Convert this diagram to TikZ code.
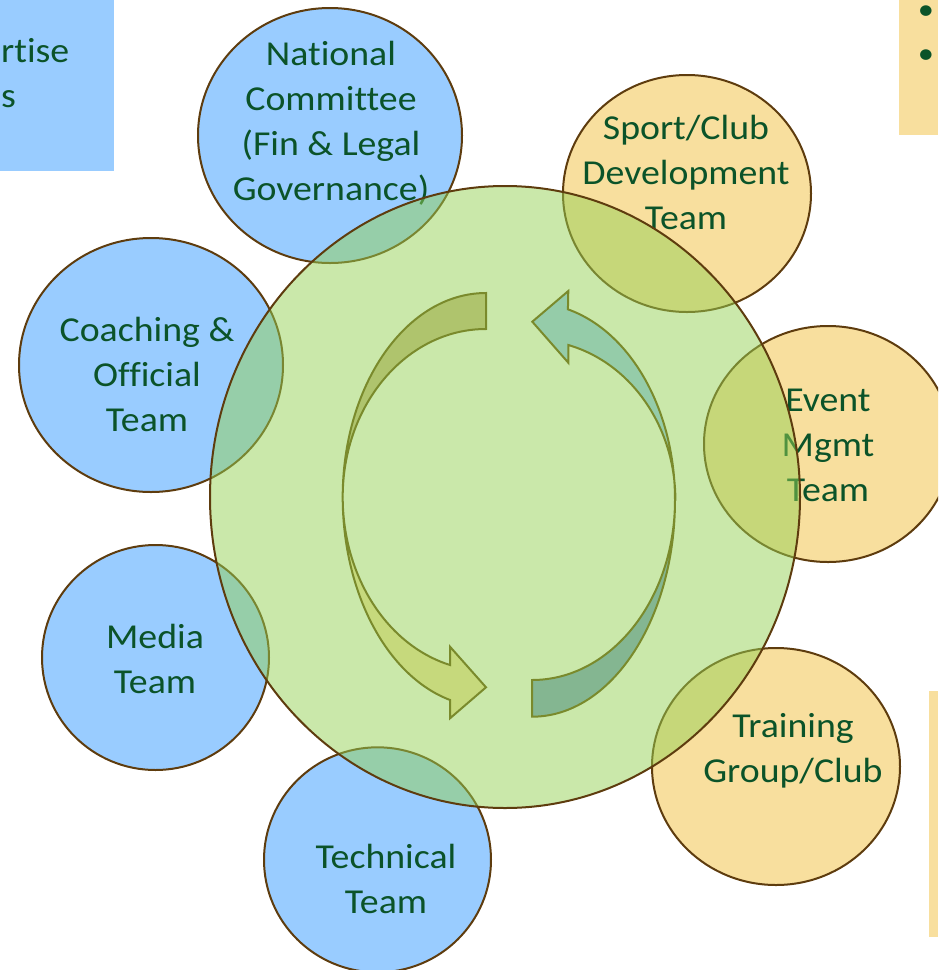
\documentclass[tikz,border=0pt]{standalone}
\usepackage{fontspec}
\setmainfont{Carlito}[FakeStretch=1.08, Ligatures=NoCommon]
\usetikzlibrary{shapes.geometric}
\definecolor{txt}{HTML}{0B5329}
\definecolor{brn}{HTML}{5E3C0E}
\definecolor{blu}{HTML}{99CCFF}
\definecolor{org}{HTML}{F8DF9E}
\definecolor{grn}{RGB}{149,209,85}
\definecolor{aline}{HTML}{7A8A2C}
\definecolor{aLtop}{HTML}{AFC46D}
\definecolor{aLbot}{HTML}{C6D97C}
\definecolor{aRtop}{HTML}{95CCA9}
\definecolor{aRbot}{HTML}{84B691}
\tikzset{
  bcirc/.style={ellipse, draw=brn, line width=2pt, fill=blu, inner sep=0pt},
  ocirc/.style={ellipse, draw=brn, line width=2pt, fill=org, inner sep=0pt},
  bigcirc/.style={ellipse, draw=brn, line width=2pt, fill=grn, fill opacity=0.5, draw opacity=1, inner sep=0pt},
  lbl/.style={text=txt, align=center, inner sep=0pt, font=\fontsize{35}{45}\selectfont},
  arrowpart/.style={draw=aline, line width=2pt, line join=miter},
  bullettxt/.style={text=txt, inner sep=0pt, font=\fontsize{30}{36}\selectfont}
}
\begin{document}
\begin{tikzpicture}[x=1pt,y=-1pt]
\useasboundingbox (0,0) rectangle (938,970);
\clip (0,0) rectangle (938,970);

% side boxes
\fill[blu] (0,0) rectangle (114,171);
\node[lbl, anchor=base west] (tl1) at (1,62) {rtise};
\node[lbl, anchor=base west] (tl2) at (1,107) {s};
\fill[org] (899,0) rectangle (938,135);
\node[bullettxt] (b1) at (926,13) {•};
\node[bullettxt] (b2) at (926,57) {•};
\fill[org] (929,691) rectangle (938,937);

% small circles
\node[bcirc, minimum width=264pt, minimum height=255pt] (nat) at (330,135.5) {};
\node[bcirc, minimum width=264pt, minimum height=254pt] (coach) at (151,365) {};
\node[bcirc, minimum width=227pt, minimum height=225pt] (media) at (155.5,657.5) {};
\node[bcirc, minimum width=227pt, minimum height=225pt] (tech) at (377.5,859.8) {};
\node[ocirc, minimum width=248pt, minimum height=237pt] (sport) at (687,193.5) {};
\node[ocirc, minimum width=248pt, minimum height=236pt] (event) at (828,444) {};
\node[ocirc, minimum width=248pt, minimum height=237pt] (train) at (776,766.5) {};

% labels
\node[lbl] (natT) at (331,123.5) {National\\Committee\\(Fin \& Legal\\Governance)};
\node[lbl] (coachT) at (147,374) {Coaching \&\\Official\\Team};
\node[lbl] (mediaT) at (155,658.5) {Media\\Team};
\node[lbl] (techT) at (386,878.5) {Technical\\Team};
\node[lbl] (sportT) at (686,172) {Sport/Club\\Development\\Team};
\node[lbl] (eventT) at (828,445) {Event\\Mgmt\\Team};
\node[lbl] (trainT) at (793,750.5) {Training\\Group/Club};

% big circle
\node[bigcirc, minimum width=590pt, minimum height=622pt] (big) at (505,497) {};

% left arrow
\path[arrowpart, fill=aLtop] (486,293)
  arc[start angle=270, end angle=180, x radius=143.3, y radius=204]
  arc[start angle=180, end angle=270, x radius=143.3, y radius=168] -- cycle;
\path[arrowpart, fill=aLbot] (342.7,497)
  arc[start angle=180, end angle=104.55, x radius=143.3, y radius=209.7]
  -- (450,718.3) -- (486,687.3) -- (450,646.7) -- (450,665)
  arc[start angle=104.55, end angle=180, x radius=143.3, y radius=173.5] -- cycle;

% right arrow
\path[arrowpart, fill=aRbot] (532,716.7)
  arc[start angle=90, end angle=0, x radius=143, y radius=216.7]
  arc[start angle=0, end angle=90, x radius=143, y radius=180] -- cycle;
\path[arrowpart, fill=aRtop] (675,500)
  arc[start angle=360, end angle=284.55, x radius=143, y radius=197]
  -- (568.3,291) -- (532.3,321.7) -- (568.3,362.7) -- (568.3,345)
  arc[start angle=284.55, end angle=360, x radius=143, y radius=160] -- cycle;
\end{tikzpicture}
\end{document}
